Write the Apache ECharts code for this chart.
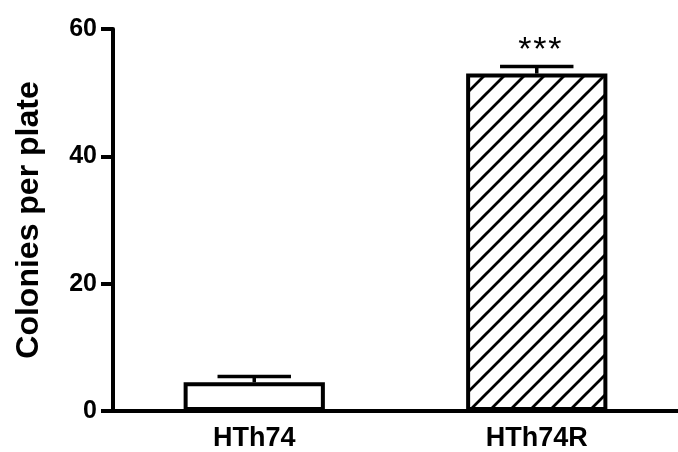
<!DOCTYPE html>
<html>
<head>
<meta charset="utf-8">
<script src="https://cdn.jsdelivr.net/npm/echarts@6/dist/echarts.min.js"></script>
<style>
  html, body { margin: 0; padding: 0; background: #fff; }
  #chart { width: 678px; height: 452px; }
</style>
</head>
<body>
<div id="chart"></div>
<script>
var groups = ['HTh74', 'HTh74R'];
var means = [4.5, 53.0];
var errors = [0.9, 1.1];
var sigLabels = ['', '***'];
var yTicks = { min: 0, max: 60, interval: 20 };

// hatch tile for the second bar
var tile = document.createElement('canvas');
tile.width = 20;
tile.height = 20;
var ctx = tile.getContext('2d');
ctx.fillStyle = '#fff';
ctx.fillRect(0, 0, 20, 20);
ctx.strokeStyle = '#000';
ctx.lineWidth = 2.8;
ctx.beginPath();
ctx.moveTo(-2, 22); ctx.lineTo(22, -2);
ctx.moveTo(-12, 12); ctx.lineTo(12, -12);
ctx.moveTo(8, 32); ctx.lineTo(32, 8);
ctx.stroke();

var chart = echarts.init(document.getElementById('chart'));

var barData = means.map(function (v, i) {
  return {
    value: v,
    itemStyle: {
      color: i === 1 ? { image: tile, repeat: 'repeat' } : '#fff'
    }
  };
});

var errData = means.map(function (v, i) {
  return [i, v, v + errors[i], sigLabels[i]];
});

var font = 'Liberation Sans, Arial, sans-serif';

var option = {
  backgroundColor: '#fff',
  animation: false,
  grid: { left: 113, right: -7, top: 29, bottom: 41 },
  xAxis: {
    type: 'category',
    data: groups,
    axisLine: { lineStyle: { color: '#000', width: 4 } },
    axisTick: { length: 10, lineStyle: { color: '#000', width: 3 } },
    axisLabel: {
      color: '#000', fontSize: 27, fontWeight: 'bold',
      fontFamily: font, margin: 14
    }
  },
  yAxis: {
    type: 'value',
    min: yTicks.min,
    max: yTicks.max,
    interval: yTicks.interval,
    name: 'Colonies per plate',
    nameLocation: 'middle',
    nameGap: 68,
    nameTextStyle: {
      color: '#000', fontSize: 32, fontWeight: 'bold', fontFamily: font
    },
    splitLine: { show: false },
    axisLine: { show: true, lineStyle: { color: '#000', width: 4 } },
    axisTick: { show: true, length: 12, lineStyle: { color: '#000', width: 4 } },
    axisLabel: {
      color: '#000', fontSize: 25, fontWeight: 'bold',
      fontFamily: font, margin: 16
    }
  },
  series: [{
    type: 'bar',
    data: barData,
    barWidth: '50%',
    itemStyle: { borderColor: '#000', borderWidth: 4 }
  }, {
    type: 'custom',
    data: errData,
    z: 5,
    renderItem: function (params, api) {
      var x = api.coord([api.value(0), api.value(1)]);
      var top = api.coord([api.value(0), api.value(2)]);
      var half = api.size([1, 0])[0] * 0.13;
      var style = { stroke: '#000', lineWidth: 3.5 };
      var children = [
        { type: 'line', shape: { x1: x[0], y1: x[1], x2: x[0], y2: top[1] }, style: style },
        { type: 'line', shape: { x1: x[0] - half, y1: top[1], x2: x[0] + half, y2: top[1] }, style: style }
      ];
      var lbl = errData[params.dataIndex][3];
      var n = lbl.length;
      for (var k = 0; k < n; k++) {
        children.push({
          type: 'text',
          style: {
            text: lbl[k], x: x[0] + 3 + (k - (n - 1) / 2) * 15, y: top[1] + 1,
            align: 'center', verticalAlign: 'bottom',
            font: '34px "Liberation Sans", Arial, sans-serif', fill: '#000'
          }
        });
      }
      return { type: 'group', children: children };
    }
  }]
};

chart.setOption(option);
</script>
</body>
</html>
